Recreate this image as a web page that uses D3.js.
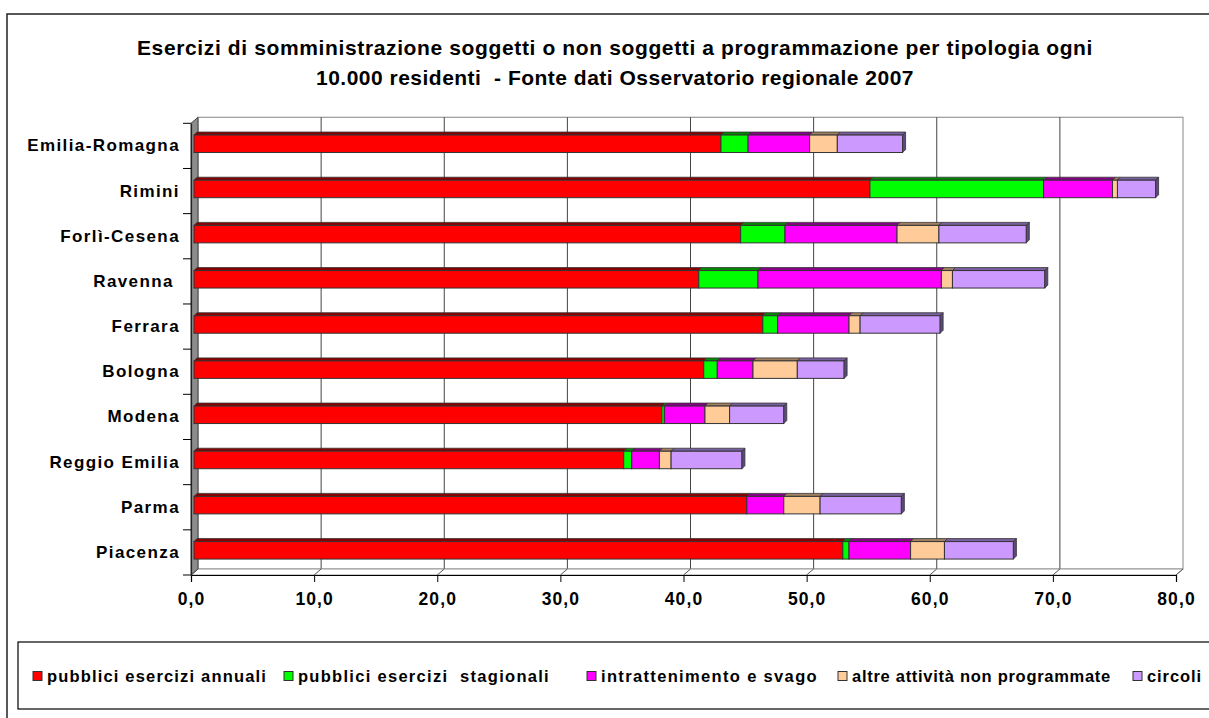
<!DOCTYPE html>
<html>
<head>
<meta charset="utf-8">
<script src="https://cdn.jsdelivr.net/npm/d3@7"></script>
<style>
  html, body { margin: 0; padding: 0; background: #fff; }
  svg { display: block; }
  text { font-family: "Liberation Sans", Arial, sans-serif; font-weight: bold; fill: #000; white-space: pre; }
</style>
</head>
<body>
<svg id="chart" width="1209" height="718"></svg>
<script>
// ---- data ----
const titleLines = [
  "Esercizi di somministrazione soggetti o non soggetti a programmazione per tipologia ogni",
  "10.000 residenti  - Fonte dati Osservatorio regionale 2007"
];
const categories = ["Emilia-Romagna", "Rimini", "Forlì-Cesena", "Ravenna ", "Ferrara",
                    "Bologna", "Modena", "Reggio Emilia", "Parma", "Piacenza"];
const seriesNames = ["pubblici esercizi annuali", "pubblici esercizi  stagionali",
                     "intrattenimento e svago", "altre attività non programmate", "circoli"];
const annuali        = [42.8, 54.9, 44.4, 41.0, 46.2, 41.4, 38.0, 34.9, 44.9, 52.7];
const stagionali     = [2.2, 14.1, 3.6, 4.8, 1.2, 1.1, 0.2, 0.65, 0.0, 0.5];
const intrattenimento= [5.0, 5.6, 9.1, 14.9, 5.8, 2.9, 3.3, 2.25, 3.0, 5.0];
const altre          = [2.25, 0.4, 3.4, 0.9, 0.9, 3.6, 2.0, 0.95, 2.95, 2.75];
const circoli        = [5.3, 3.1, 7.1, 7.5, 6.5, 3.8, 4.4, 5.75, 6.6, 5.6];
const xTicks = [0, 10, 20, 30, 40, 50, 60, 70, 80];

const seriesValues = [annuali, stagionali, intrattenimento, altre, circoli];
const frontColors = ["#FF0000", "#00FF00", "#FF00FF", "#FFCC99", "#CC99FF"];
const topColors   = ["#8a0000", "#008a00", "#8a008a", "#a08060", "#7a60a0"];
const sideColors  = ["#700000", "#007000", "#700070", "#806040", "#5c4a7a"];

// fit a text element's letter-spacing so it spans the given width
function fitWidth(node, target) {
  const n = node.textContent.length;
  node.setAttribute("letter-spacing", 0);
  const w = node.getComputedTextLength();
  if (n > 1) node.setAttribute("letter-spacing", ((target - w) / n).toFixed(3));
}

// ---- layout ----
const svg = d3.select("#chart");
const x = d3.scaleLinear().domain([0, 80]).range([191, 1176]);
const y = d3.scaleBand().domain(categories).range([123.3, 575]);
const wallDx = 7, wallDy = -6;   // back wall offset
const barDx = 3, barDy = -3;     // bar depth
const barOff = 3;                // bar front offset in x
const floorY = 575;

// outer frame
svg.append("path").attr("d", `M7,718 L7,14 L1209,14`).attr("fill", "none")
  .attr("stroke", "#222").attr("stroke-width", 1.5);

// title
const titleWidths = [956, 598];
titleLines.forEach((t, i) => {
  const el = svg.append("text").attr("x", 615).attr("y", 55 + i * 30)
    .attr("text-anchor", "middle").attr("font-size", 21).text(t);
  fitWidth(el.node(), titleWidths[i]);
});

// back wall
const wallTop = y.range()[0] + wallDy;
const wallBottom = floorY + wallDy;
svg.append("rect").attr("x", x(0) + wallDx).attr("y", wallTop)
  .attr("width", x(80) - x(0)).attr("height", wallBottom - wallTop)
  .attr("fill", "#fff").attr("stroke", "#999").attr("stroke-width", 1.2);

// gridlines on back wall
svg.append("g").selectAll("line").data(xTicks.slice(1, -1)).join("line")
  .attr("x1", d => x(d) + wallDx).attr("x2", d => x(d) + wallDx)
  .attr("y1", wallTop).attr("y2", wallBottom)
  .attr("stroke", "#444").attr("stroke-width", 1);

// floor
svg.append("path")
  .attr("d", `M${x(0)},${floorY} L${x(0)+wallDx},${wallBottom} L${x(80)+wallDx},${wallBottom} L${x(80)},${floorY} Z`)
  .attr("fill", "#fff").attr("stroke", "#999").attr("stroke-width", 1);
svg.append("g").selectAll("line").data(xTicks).join("line")
  .attr("x1", d => x(d)).attr("y1", floorY)
  .attr("x2", d => x(d) + wallDx).attr("y2", wallBottom)
  .attr("stroke", "#555").attr("stroke-width", 1);

// left wall
svg.append("path")
  .attr("d", `M${x(0)},${y.range()[0]} L${x(0)+wallDx},${wallTop} L${x(0)+wallDx},${wallBottom} L${x(0)},${floorY} Z`)
  .attr("fill", "#8c8c8c").attr("stroke", "#444").attr("stroke-width", 1);

// x axis
const xAxis = d3.axisBottom(x).tickValues(xTicks).tickSize(7).tickPadding(11)
  .tickFormat(d => d3.format(".1f")(d).replace(".", ","));
const gx = svg.append("g").attr("transform", `translate(0,${floorY})`).call(xAxis);
gx.select(".domain").attr("stroke", "#000").attr("stroke-width", 1.2);
gx.selectAll(".tick line").attr("stroke", "#000");
gx.selectAll(".tick text").attr("font-size", 17.5).attr("letter-spacing", 1.1)
  .attr("font-family", "'Liberation Sans', Arial, sans-serif").attr("font-weight", "bold").attr("fill", "#000");

// y axis
const yAxis = d3.axisLeft(y).tickSize(0).tickPadding(11);
const gy = svg.append("g").attr("transform", `translate(${x(0)},0)`).call(yAxis);
gy.select(".domain").attr("stroke", "#222").attr("stroke-width", 1.2);
gy.selectAll(".tick text").attr("font-size", 17).attr("letter-spacing", 1.4)
  .attr("font-family", "'Liberation Sans', Arial, sans-serif").attr("font-weight", "bold").attr("fill", "#000")
  .style("white-space", "pre");
// category tick marks at band boundaries
const bounds = categories.map(c => y(c)).concat([y.range()[1]]);
svg.append("g").selectAll("line").data(bounds).join("line")
  .attr("x1", x(0) - 8).attr("x2", x(0)).attr("y1", d => d).attr("y2", d => d)
  .attr("stroke", "#000").attr("stroke-width", 1);

// stacked data
const rows = categories.map((c, i) => {
  let acc = 0;
  return seriesValues.map((vals, s) => {
    const v0 = acc; acc += vals[i];
    return { cat: c, s, v0, v1: acc };
  });
});

const bw = y.bandwidth();
const barTopOff = 0.26 * bw, barH = 0.387 * bw;
const gb = svg.append("g");
rows.forEach(segs => {
  const visible = segs.filter(d => d.v1 - d.v0 > 0);
  const last = visible[visible.length - 1];
  visible.forEach(d => {
    const xa = x(d.v0) + barOff, xb = x(d.v1) + barOff;
    const yt = y(d.cat) + barTopOff, yb = yt + barH;
    gb.append("path")
      .attr("d", `M${xa},${yt} L${xa+barDx},${yt+barDy} L${xb+barDx},${yt+barDy} L${xb},${yt} Z`)
      .attr("fill", topColors[d.s]).attr("stroke", "#333").attr("stroke-width", 0.8);
    gb.append("rect").attr("x", xa).attr("y", yt).attr("width", xb - xa).attr("height", barH)
      .attr("fill", frontColors[d.s]).attr("stroke", "#333").attr("stroke-width", 1);
    if (d === last) {
      gb.append("path")
        .attr("d", `M${xb},${yt} L${xb+barDx},${yt+barDy} L${xb+barDx},${yb+barDy} L${xb},${yb} Z`)
        .attr("fill", sideColors[d.s]).attr("stroke", "#333").attr("stroke-width", 0.8);
    }
  });
});

// legend
svg.append("rect").attr("x", 18).attr("y", 642).attr("width", 1200).attr("height", 67)
  .attr("fill", "#fff").attr("stroke", "#000").attr("stroke-width", 1.2);
const legendX = [33, 284, 587, 838, 1133];
const legendTextW = [220, 252, 217, 259, 55];
const lg = svg.append("g").selectAll("g").data(seriesNames).join("g")
  .attr("transform", (d, i) => `translate(${legendX[i]},676)`);
lg.append("rect").attr("x", 0).attr("y", -4.5).attr("width", 9).attr("height", 9)
  .attr("fill", (d, i) => frontColors[i]).attr("stroke", "#333").attr("stroke-width", 1);
lg.append("text").attr("x", 14).attr("y", 0).attr("dy", "0.35em")
  .attr("font-size", 16.5).text(d => d)
  .each(function(d, i) { fitWidth(this, legendTextW[i]); });
</script>
</body>
</html>
